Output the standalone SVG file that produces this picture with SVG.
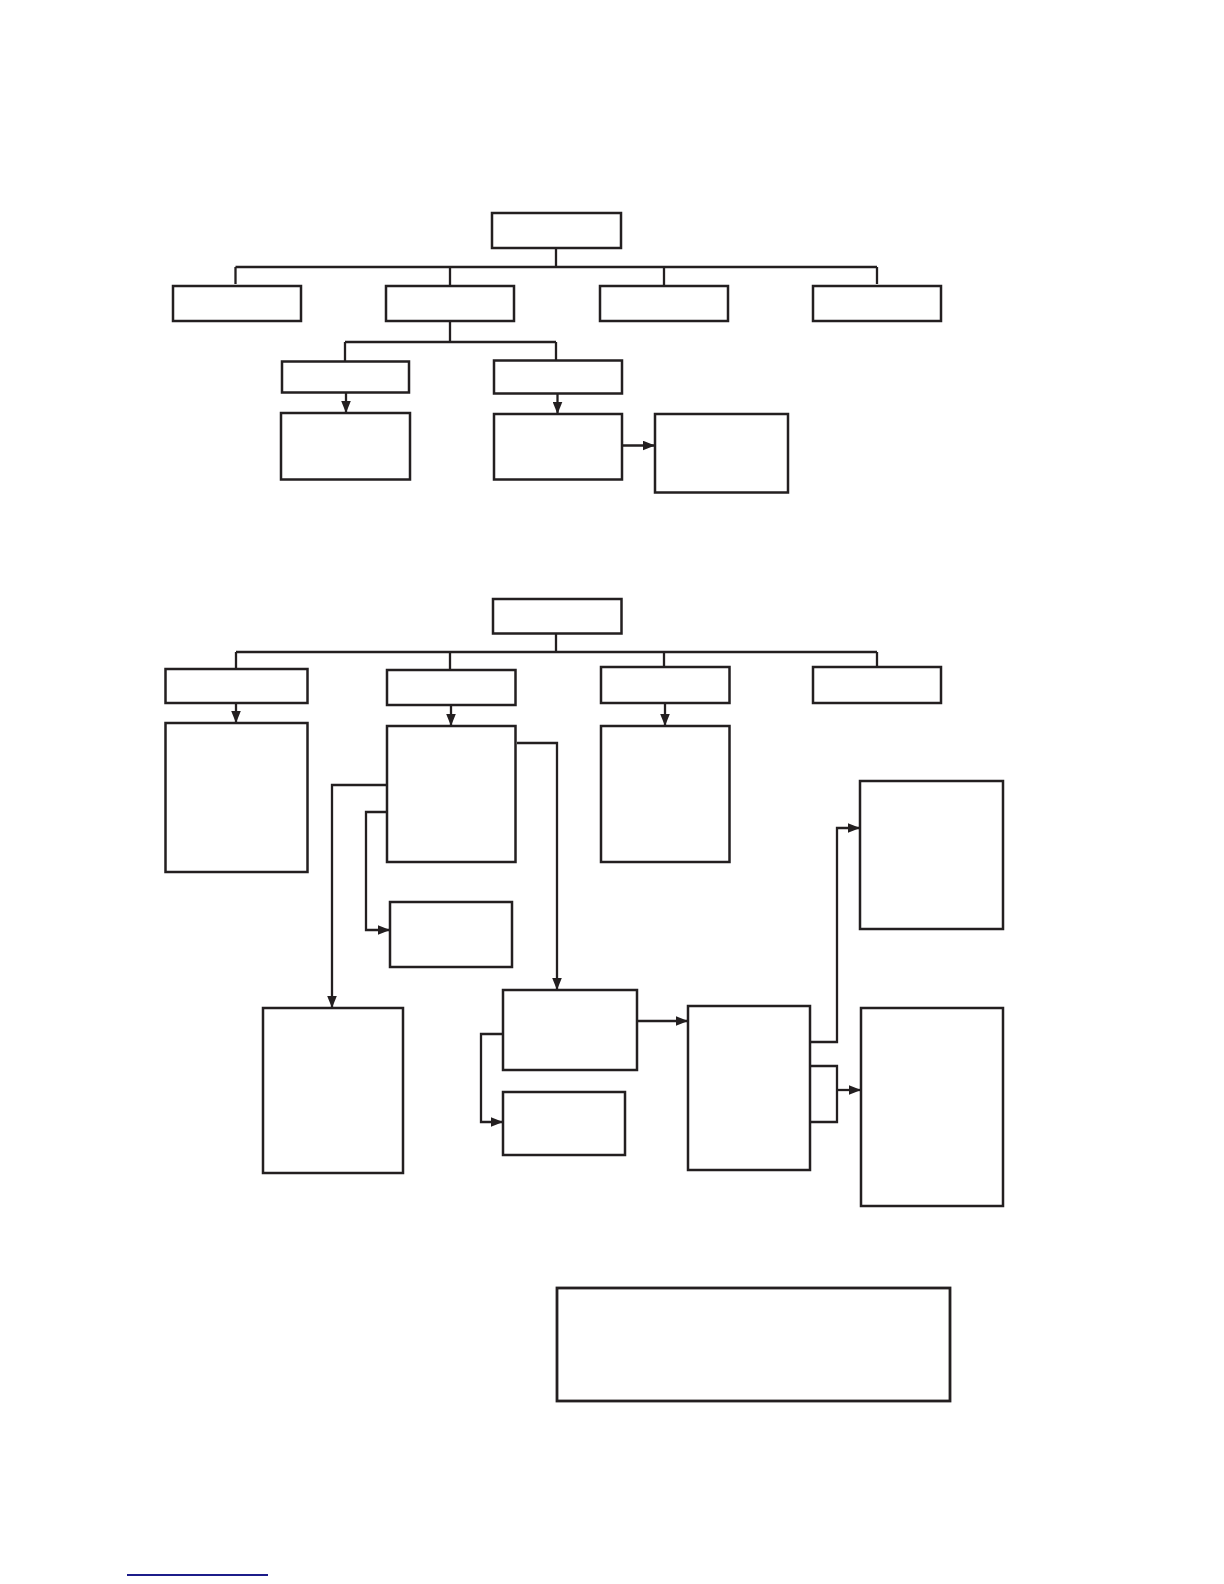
<svg xmlns="http://www.w3.org/2000/svg" width="1224" height="1584" viewBox="0 0 1224 1584">
<style>
.n{fill:#fff;stroke:#231f20;stroke-width:2.5}
.c{fill:none;stroke:#231f20;stroke-width:2.3}
.a{marker-end:url(#ah)}
</style>
<defs>
<marker id="ah" markerUnits="userSpaceOnUse" markerWidth="13" markerHeight="10" refX="12.5" refY="5" orient="auto">
<path d="M0,0 L12.5,5 L0,10 z" fill="#231f20"/>
</marker>
</defs>
<rect width="1224" height="1584" fill="#fff"/>
<g id="connectors">
<path class="c" d="M556,248 V267 M235.5,267 H877 M235.5,267 V284 M450,267 V286 M664,267 V286 M877,267 V284"/>
<path class="c" d="M450,321 V342 M345,342 H556 M345,342 V361 M556,342 V360"/>
<path class="c a" d="M346,392.5 V413"/>
<path class="c a" d="M557.5,393.5 V414"/>
<path class="c a" d="M622,445.5 H655"/>
<path class="c" d="M556,633.5 V652 M236,652 H877 M236,652 V669 M450,652 V670 M664,652 V667 M877,652 V668"/>
<path class="c a" d="M236,703 V723"/>
<path class="c a" d="M451,705 V726"/>
<path class="c a" d="M665,703 V726"/>
<path class="c a" d="M387,785 H332 V1008"/>
<path class="c a" d="M387,812 H366 V930 H390"/>
<path class="c a" d="M517,743 H557 V990"/>
<path class="c a" d="M637,1021 H688"/>
<path class="c a" d="M503,1034 H481 V1122 H503"/>
<path class="c a" d="M810,1042 H837 V828 H860"/>
<path class="c" d="M810,1066 H837 V1122 H810"/>
<path class="c a" d="M837,1090 H861"/>
</g>
<g id="root1"><rect class="n" x="492" y="213" width="129" height="35"/></g>
<g id="t1b1"><rect class="n" x="173" y="286" width="128" height="35"/></g>
<g id="t1b2"><rect class="n" x="386" y="286" width="128" height="35"/></g>
<g id="t1b3"><rect class="n" x="600" y="286" width="128" height="35"/></g>
<g id="t1b4"><rect class="n" x="813" y="286" width="128" height="35"/></g>
<g id="t1a"><rect class="n" x="282" y="361.5" width="127" height="31"/></g>
<g id="t1b"><rect class="n" x="494" y="360.5" width="128" height="33"/></g>
<g id="t1c"><rect class="n" x="281" y="413" width="129" height="66.5"/></g>
<g id="t1d"><rect class="n" x="494" y="414" width="128" height="65.5"/></g>
<g id="t1e"><rect class="n" x="655" y="414" width="133" height="78.5"/></g>
<g id="root2"><rect class="n" x="493" y="599" width="128.5" height="34.5"/></g>
<g id="t2f"><rect class="n" x="165.5" y="669" width="142" height="34"/></g>
<g id="t2h"><rect class="n" x="387" y="670" width="128.5" height="35"/></g>
<g id="t2m"><rect class="n" x="601" y="667" width="128.5" height="36"/></g>
<g id="t2n"><rect class="n" x="813" y="667" width="128" height="36"/></g>
<g id="t2g"><rect class="n" x="165.5" y="723" width="142" height="149"/></g>
<g id="t2i"><rect class="n" x="387" y="726" width="128.5" height="136"/></g>
<g id="t2o"><rect class="n" x="601" y="726" width="128.5" height="136"/></g>
<g id="t2j"><rect class="n" x="263" y="1008" width="140" height="165"/></g>
<g id="t2k"><rect class="n" x="390" y="902" width="122" height="65"/></g>
<g id="t2l"><rect class="n" x="503" y="990" width="134" height="80"/></g>
<g id="t2r"><rect class="n" x="503" y="1092" width="122" height="63"/></g>
<g id="t2q"><rect class="n" x="688" y="1006" width="122" height="164"/></g>
<g id="t2p"><rect class="n" x="860" y="781" width="143" height="148"/></g>
<g id="t2s"><rect class="n" x="861" y="1008" width="142" height="198"/></g>
<g id="note"><rect class="n" x="557" y="1288" width="393" height="113" style="stroke-width:2.8"/></g>
<line x1="127" y1="1575" x2="268" y2="1575" stroke="#1c1c8a" stroke-width="2"/>
</svg>
